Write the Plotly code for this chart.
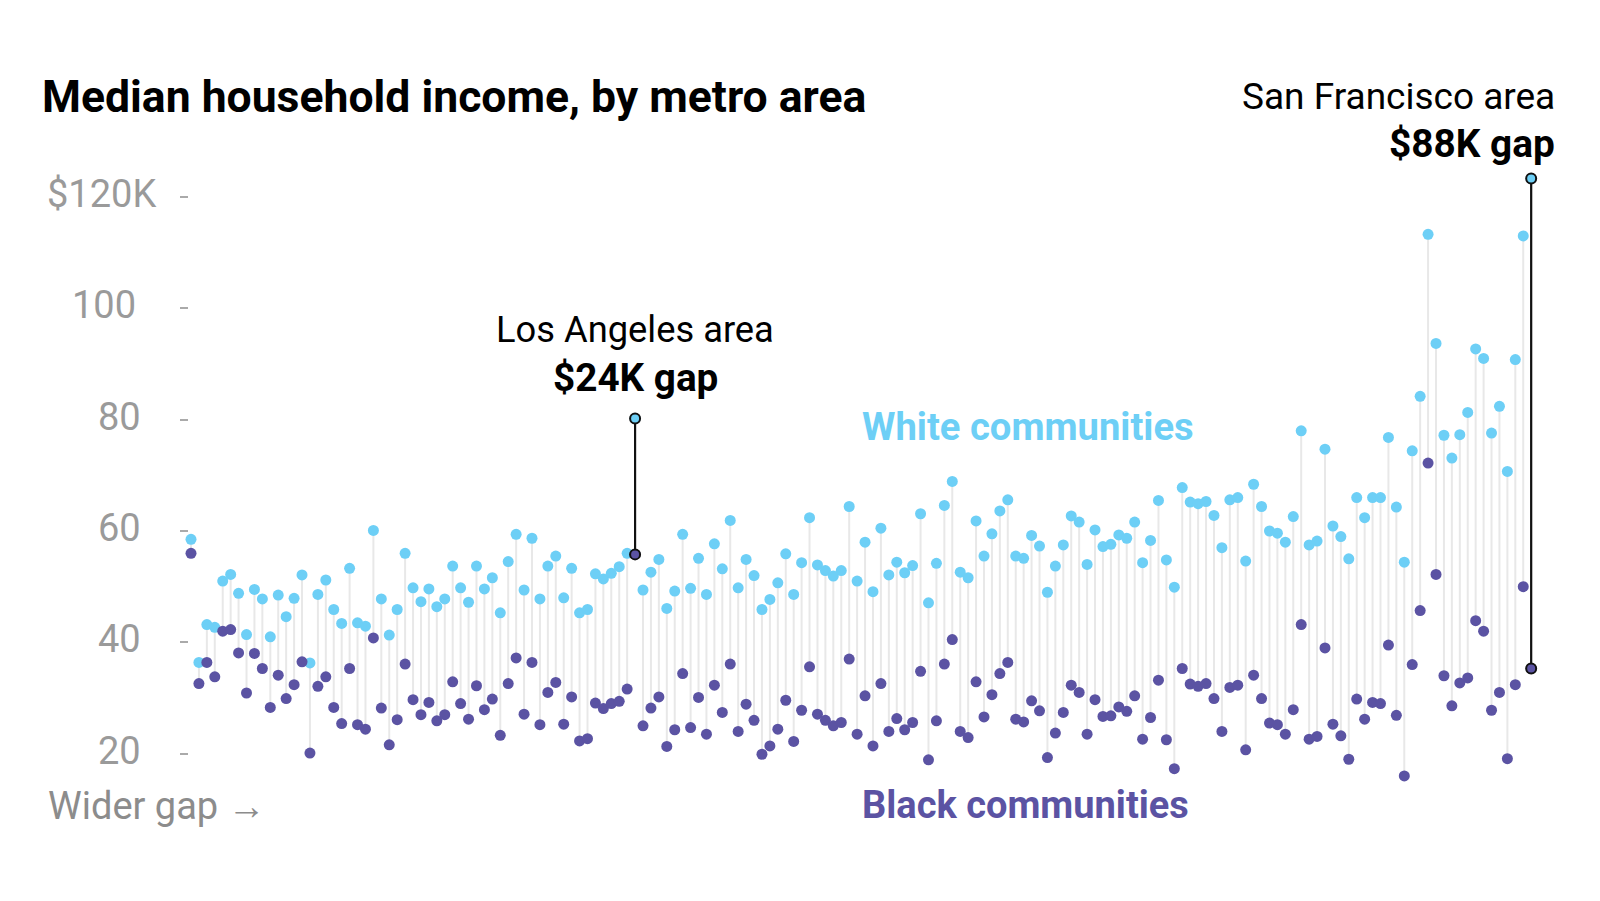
import plotly.graph_objects as go

# ---------------- data ----------------
# Metro areas, sorted left -> right by widening income gap
white = [
    58.5, 36.4, 43.2, 42.7, 51.0, 52.2, 48.8, 41.4, 49.5, 47.8,
    41.0, 48.5, 44.6, 47.9, 52.1, 36.3, 48.6, 51.2, 45.9, 43.4,
    53.3, 43.5, 42.9, 60.1, 47.8, 41.3, 45.9, 56.0, 49.8, 47.3,
    49.6, 46.4, 47.8, 53.7, 49.8, 47.2, 53.7, 49.6, 51.6, 45.3,
    54.5, 59.4, 49.4, 58.7, 47.8, 53.7, 55.5, 48.0, 53.3, 45.3,
    45.9, 52.3, 51.4, 52.4, 53.6, 56.0, 80.2, 49.4, 52.6, 54.9,
    46.1, 49.2, 59.4, 49.7, 55.1, 48.6, 57.7, 53.2, 61.9, 49.8,
    54.9, 52.0, 45.9, 47.7, 50.7, 55.9, 48.6, 54.3, 62.4, 53.9,
    52.9, 51.9, 52.9, 64.4, 51.0, 58.0, 49.1, 60.5, 52.1, 54.4,
    52.5, 53.8, 63.1, 47.1, 54.2, 64.6, 68.9, 52.6, 51.6, 61.8,
    55.5, 59.5, 63.6, 65.6, 55.5, 55.1, 59.2, 57.3, 49.0, 53.7,
    57.5, 62.7, 61.6, 54.0, 60.2, 57.2, 57.6, 59.3, 58.7, 61.6,
    54.3, 58.3, 65.5, 54.8, 49.9, 67.8, 65.2, 64.9, 65.3, 62.8,
    57.0, 65.6, 66.0, 54.6, 68.4, 64.4, 60.0, 59.6, 58.0, 62.6,
    78.0, 57.5, 58.2, 74.7, 60.9, 59.0, 55.0, 66.0, 62.4, 66.0,
    66.0, 76.8, 64.3, 54.4, 74.4, 84.2, 113.3, 93.7, 77.2, 73.1,
    77.3, 81.3, 92.7, 91.0, 77.6, 82.4, 70.7, 90.8, 113.0, 123.3,
]
black = [
    56.0, 32.6, 36.4, 33.8, 42.0, 42.3, 38.1, 30.9, 38.0, 35.3,
    28.3, 34.1, 29.9, 32.4, 36.5, 20.1, 32.1, 33.8, 28.3, 25.4,
    35.3, 25.2, 24.4, 40.8, 28.2, 21.6, 26.1, 36.1, 29.7, 27.0,
    29.2, 25.9, 27.0, 32.9, 29.0, 26.2, 32.2, 27.9, 29.8, 23.3,
    32.6, 37.2, 27.1, 36.4, 25.2, 31.0, 32.8, 25.3, 30.2, 22.3,
    22.7, 29.1, 28.1, 29.0, 29.4, 31.6, 55.8, 25.0, 28.2, 30.2,
    21.3, 24.3, 34.4, 24.7, 30.1, 23.5, 32.3, 27.4, 36.1, 24.0,
    28.9, 26.0, 19.9, 21.4, 24.4, 29.6, 22.2, 27.8, 35.6, 27.1,
    26.0, 25.0, 25.6, 37.0, 23.5, 30.4, 21.4, 32.6, 24.0, 26.3,
    24.3, 25.6, 34.8, 18.9, 25.9, 36.1, 40.5, 24.0, 22.9, 32.9,
    26.6, 30.6, 34.4, 36.4, 26.2, 25.7, 29.5, 27.7, 19.3, 23.7,
    27.4, 32.3, 31.0, 23.5, 29.7, 26.7, 26.8, 28.4, 27.6, 30.4,
    22.6, 26.5, 33.2, 22.5, 17.3, 35.3, 32.5, 32.1, 32.6, 29.9,
    24.0, 31.9, 32.3, 20.7, 34.1, 29.9, 25.5, 25.2, 23.5, 27.9,
    43.2, 22.6, 23.1, 39.0, 25.3, 23.2, 19.0, 29.8, 26.2, 29.2,
    29.0, 39.5, 26.9, 16.0, 36.0, 45.7, 72.2, 52.2, 34.0, 28.6,
    32.7, 33.6, 43.9, 42.0, 27.8, 31.0, 19.1, 32.4, 50.0, 35.3,
]
highlight_names = ["Los Angeles area", "San Francisco area"]
highlight_index = [56, 169]
highlight_gaps = ["$24K gap", "$88K gap"]

tick_vals = [20, 40, 60, 80, 100, 120]
tick_text = ["20", "40", "60", "80", "100", "$120K"]

title = "Median household income, by metro area"
series_names = ["White communities", "Black communities"]
direction_label = "Wider gap \u2192"

# ---------------- styling / layout ----------------
W, H = 1600, 901
X0_PX, DX = 191.0, 7.93      # pixel of first metro, pixel step
Y60_PX, DY = 531.0, 5.567    # pixel of $60K, pixels per $1K
WHITE_C = "#6DCFF6"
BLACK_C = "#5B53A3"
FONT = "Roboto"

xr = [-X0_PX / DX, (W - X0_PX) / DX]
yr = [60 - (H - Y60_PX) / DY, 60 + Y60_PX / DY]


def px(x):
    return x / W


def py(y):
    return 1 - y / H


idx = list(range(len(white)))
cx, cy = [], []
for i in idx:
    cx += [i, i, None]
    cy += [black[i], white[i], None]

fig = go.Figure()
fig.add_trace(go.Scatter(x=cx, y=cy, mode="lines",
                         line=dict(color="#e8e8e8", width=2),
                         hoverinfo="skip", showlegend=False))
fig.add_trace(go.Scatter(x=idx, y=white, mode="markers", name=series_names[0],
                         marker=dict(color=WHITE_C, size=11, line=dict(width=0)),
                         showlegend=False))
fig.add_trace(go.Scatter(x=idx, y=black, mode="markers", name=series_names[1],
                         marker=dict(color=BLACK_C, size=11, line=dict(width=0)),
                         showlegend=False))

for i in highlight_index:
    fig.add_trace(go.Scatter(x=[i, i], y=[black[i], white[i]], mode="lines",
                             line=dict(color="#111111", width=2.2),
                             hoverinfo="skip", showlegend=False))
    fig.add_trace(go.Scatter(x=[i, i], y=[white[i], black[i]], mode="markers",
                             marker=dict(color=[WHITE_C, BLACK_C], size=10,
                                         line=dict(color="#111111", width=2)),
                             hoverinfo="skip", showlegend=False))

annotations = []
# title
annotations.append(dict(xref="paper", yref="paper", x=px(40), y=py(97),
                        xanchor="left", yanchor="middle", showarrow=False,
                        text="<b>" + title + "</b>",
                        font=dict(family=FONT, size=44.5, color="#000000")))
# y tick labels
for v, t in zip(tick_vals, tick_text):
    if t.startswith("$"):
        annotations.append(dict(xref="paper", yref="y", x=px(45), y=v, yshift=3,
                                xanchor="left", yanchor="middle", showarrow=False,
                                text=t, font=dict(family=FONT, size=38, color="#9a9a9a")))
    else:
        right = 138 if len(t) == 3 else 143
        annotations.append(dict(xref="paper", yref="y", x=px(right), y=v, yshift=3,
                                xanchor="right", yanchor="middle", showarrow=False,
                                text=t, font=dict(family=FONT, size=38, color="#9a9a9a")))
# LA annotation (centred over its metro)
la = highlight_index[0]
annotations.append(dict(xref="x", yref="paper", x=la, y=py(329), xanchor="center",
                        yanchor="middle", showarrow=False, text=highlight_names[0],
                        font=dict(family=FONT, size=36.3, color="#000000")))
annotations.append(dict(xref="x", yref="paper", x=la, y=py(377.5), xanchor="center",
                        yanchor="middle", showarrow=False,
                        text="<b>" + highlight_gaps[0] + "</b>",
                        font=dict(family=FONT, size=38.7, color="#000000")))
# SF annotation (right-aligned)
annotations.append(dict(xref="paper", yref="paper", x=px(1557), y=py(96), xanchor="right",
                        yanchor="middle", showarrow=False, text=highlight_names[1],
                        font=dict(family=FONT, size=37, color="#000000")))
annotations.append(dict(xref="paper", yref="paper", x=px(1557), y=py(143), xanchor="right",
                        yanchor="middle", showarrow=False,
                        text="<b>" + highlight_gaps[1] + "</b>",
                        font=dict(family=FONT, size=38.8, color="#000000")))
# series labels
annotations.append(dict(xref="paper", yref="paper", x=px(860), y=py(427), xanchor="left",
                        yanchor="middle", showarrow=False,
                        text="<b>" + series_names[0] + "</b>",
                        font=dict(family=FONT, size=38.2, color=WHITE_C)))
annotations.append(dict(xref="paper", yref="paper", x=px(860), y=py(805), xanchor="left",
                        yanchor="middle", showarrow=False,
                        text="<b>" + series_names[1] + "</b>",
                        font=dict(family=FONT, size=38, color=BLACK_C)))
annotations.append(dict(xref="paper", yref="paper", x=px(46), y=py(806), xanchor="left",
                        yanchor="middle", showarrow=False, text=direction_label,
                        font=dict(family=FONT, size=38, color="#8c8c8c")))

fig.update_layout(
    width=W, height=H,
    margin=dict(l=0, r=0, t=0, b=0),
    paper_bgcolor="white", plot_bgcolor="white",
    showlegend=False, hovermode=False,
    xaxis=dict(range=xr, domain=[0, 1], visible=False, fixedrange=True),
    yaxis=dict(range=yr, domain=[0, 1], anchor="free", position=188 / W,
               showgrid=False, zeroline=False, showline=False,
               showticklabels=False, tickmode="array", tickvals=tick_vals,
               ticks="outside", ticklen=8, tickwidth=2, tickcolor="#aaaaaa",
               fixedrange=True),
    annotations=annotations,
)

fig.write_html("out.html")
